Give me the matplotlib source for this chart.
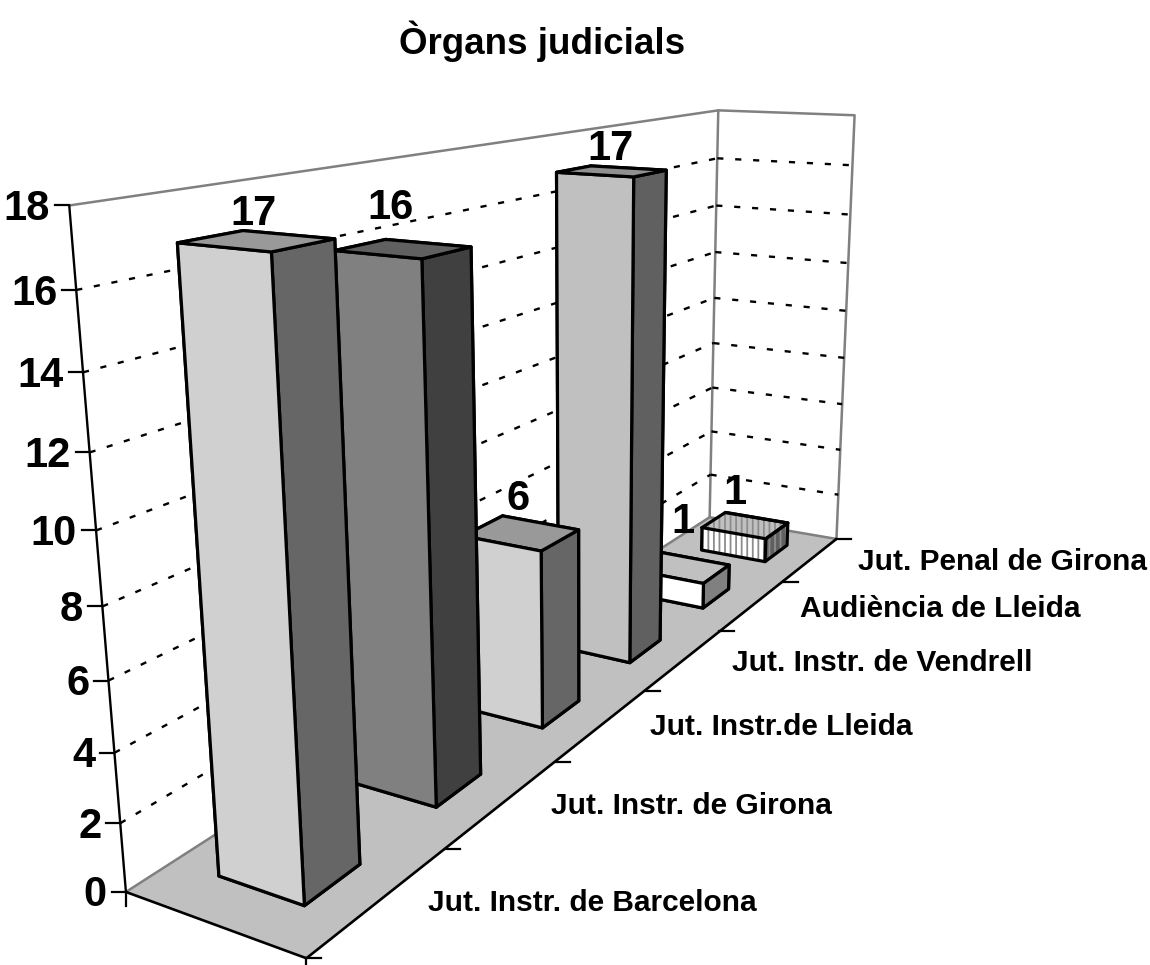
import numpy as np
import matplotlib
matplotlib.use('Agg')
import matplotlib.pyplot as plt
from matplotlib.lines import Line2D
from matplotlib.transforms import IdentityTransform
from mpl_toolkits.mplot3d import proj3d
from mpl_toolkits.mplot3d.art3d import Poly3DCollection

plt.rcParams['font.family'] = ['Liberation Sans', 'DejaVu Sans']
plt.rcParams['font.weight'] = 'bold'

# datos
titol = 'Òrgans judicials'
categories = ['Jut. Instr. de Barcelona', 'Jut. Instr. de Girona', 'Jut. Instr.de Lleida',
              'Jut. Instr. de Vendrell', 'Audiència de Lleida', 'Jut. Penal de Girona']
valors = [17, 16, 6, 17, 1, 1]
z_ticks = [0, 2, 4, 6, 8, 10, 12, 14, 16, 18]

# estilo de cada barra: frente, arriba, lado
c_frente = ['#d0d0d0', '#808080', '#d0d0d0', '#c0c0c0', '#ffffff', '#ffffff']
c_arriba = ['#999999', '#606060', '#999999', '#909090', '#c0c0c0', '#c0c0c0']
c_lado = ['#666666', '#404040', '#666666', '#606060', '#808080', '#606060']
# desplazamiento de las etiquetas respecto al centro de la barra (pixeles)
lab_dx = [-3, -13, -3, -1, 0, -10]
lab_dy = [31, 45, 38, 27, 50, 37]

W, H = 1150, 965
fig = plt.figure(figsize=(W/100, H/100), dpi=100)
ax = fig.add_axes([71.44/W, 47.64/H, H/W, 1], projection='3d', computed_zorder=False)
ax.set_axis_off()
ax.patch.set_visible(False)
ax.set_xlim(0, 6); ax.set_ylim(0, 1); ax.set_zlim(0, 18)
ax.view_init(14.925, -149.889, 0.16)
ax.set_proj_type('persp', focal_length=0.30744)
ax.set_box_aspect((6, 1.00625, 3.00795), zoom=1.22882)
ax.apply_aspect()

n = len(categories)
zmax = z_ticks[-1]
g = 0.3034
y_izq, y_der = 0.7374, 0.2549
WALL = '#808080'


def pix(x, y, z):
    # punto 3D a pixeles de la figura
    X, Y, _ = proj3d.proj_transform(x, y, z, ax.get_proj())
    return ax.transData.transform((X, Y))


def linea(x, y, z, color, lw, zorder, **kw):
    ax.plot(x, y, z, color=color, lw=lw, zorder=zorder, clip_on=False,
            solid_capstyle='round', **kw)


def tick(x, y, z, dx, dy):
    px, py = pix(x, y, z)
    fig.add_artist(Line2D([px, px+dx], [py, py+dy], color='black', lw=1.6,
                          transform=IdentityTransform()))


# suelo
suelo = Poly3DCollection([[(0, 1, 0), (0, 0, 0), (n, 0, 0), (n, 1, 0)]],
                         facecolors='#c0c0c0', edgecolors='none')
suelo.set_zorder(1)
suelo.set_clip_on(False)
ax.add_collection3d(suelo)

# paredes
linea([0, n, n, n], [1, 1, 0, 0], [zmax, zmax, zmax, 0], WALL, 1.8, 2)
linea([n, n], [1, 1], [0, zmax], WALL, 1.8, 2)
linea([0, n, n], [1, 1, 0], [0, 0, 0], WALL, 1.8, 2)

# rejilla punteada
for z in z_ticks[1:-1]:
    linea([0, n], [1, 1], [z, z], 'black', 1.7, 3, ls=(0, (2.6, 5)))
    linea([n, n], [1, 0], [z, z], 'black', 1.7, 3, ls=(0, (2.6, 5)))

# ejes
linea([0, 0], [1, 1], [0, zmax], 'black', 1.7, 4)
linea([0, 0, n], [1, 0, 0], [0, 0, 0], 'black', 1.9, 4)

# barras, de atras hacia adelante
for i in range(n-1, -1, -1):
    cols = [c_frente[i], c_arriba[i], c_lado[i], c_lado[i], c_frente[i], c_lado[i]]
    x0, x1 = i+g, i+1-g
    if i == 5:
        # la ultima va rayada: raya gris y el contorno aparte
        plt.rcParams['hatch.linewidth'] = 1.3
        b = ax.bar3d(x0, y_der, 0, 1-2*g, y_izq-y_der, valors[i], color=cols, shade=False,
                     edgecolor='#8c8c8c', linewidth=0.5, hatch='|||')
        b.set_zorder(10+n-i)
        b.set_clip_on(False)
        v = valors[i]
        borde = [([x0, x1, x1, x0, x0], [y_izq, y_izq, y_der, y_der, y_izq], [v, v, v, v, v]),
                 ([x0, x0, x0, x1, x1], [y_izq, y_izq, y_der, y_der, y_der], [v, 0, 0, 0, v]),
                 ([x0, x0], [y_der, y_der], [0, v]),
                 ([x1, x1, x0], [y_izq, y_der, y_der], [v, v, v])]
        for bx, by, bz in borde:
            linea(bx, by, bz, 'black', 2.3, 10+n-i+0.5)
    else:
        b = ax.bar3d(x0, y_der, 0, 1-2*g, y_izq-y_der, valors[i], color=cols,
                     shade=False, edgecolor='black', linewidth=2.3)
        b.set_zorder(10+n-i)
        b.set_clip_on(False)
ax.set_xlim(0, 6); ax.set_ylim(0, 1); ax.set_zlim(0, 18)

# marcas y etiquetas
for z in z_ticks:
    tick(0, 1, z, -14, 0)
    px, py = pix(0, 1, z)
    fig.text(px-19, py+1, str(z), transform=IdentityTransform(), ha='right', va='center_baseline',
             fontsize=30, fontweight='bold')
tick(0, 1, 0, 0, -14)
tick(0, 0, 0, 0, -10)
for k in range(n+1):
    tick(k, 0, 0, 15, 0)

for i in range(n):
    px, py = pix(i+0.5, 0, 0)
    fig.text(px+48, py, categories[i], transform=IdentityTransform(), ha='left', va='center_baseline',
             fontsize=21.5, fontweight='bold')
    px, py = pix(i+0.5, (y_izq+y_der)/2, valors[i])
    fig.text(px+lab_dx[i], py+lab_dy[i], str(valors[i]), transform=IdentityTransform(), ha='center',
             va='center_baseline', fontsize=30, fontweight='bold')

fig.text(542.5, H-37, titol, transform=IdentityTransform(), ha='center', va='center_baseline',
         fontsize=26.5, fontweight='bold')

fig.savefig('out.png', dpi=100)
